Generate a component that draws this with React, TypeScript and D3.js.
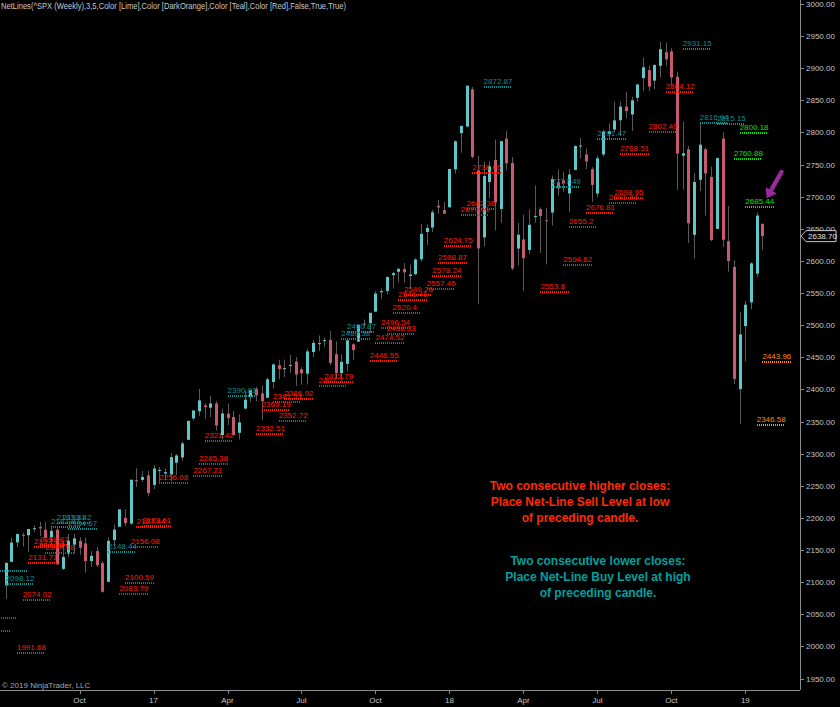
import React from "react";
import * as d3 from "d3";

// Weekly S&P 500 bars, week of 2016-07-04 through week of 2019-01-21
const opens = [
  2095.05, 2131.72, 2162.04, 2173.71, 2173.15, 2183.76, 2186.08, 2181.58, 2170.19, 2181.61,
  2120.86, 2143.99, 2158.54, 2164.33, 2160.39, 2132.95, 2148.5, 2129.78, 2100.59, 2165.64,
  2186.43, 2200.17, 2191.26, 2258.83, 2259.24, 2266.23,
  2251.57, 2273.59, 2269.14, 2267.78, 2286.01, 2294.28, 2321.72, 2354.91, 2366.08, 2375.23,
  2371.56, 2378.24, 2329.11, 2362.34, 2357.16, 2332.62, 2370.33, 2388.5, 2401.0, 2393.98,
  2387.21, 2411.67, 2437.83, 2432.03, 2437.0, 2443.32, 2431.39, 2424.51, 2458.35, 2472.04,
  2475.94, 2477.14, 2454.96, 2425.5, 2439.91, 2470.35, 2474.52, 2502.51, 2503.3, 2521.2,
  2551.39, 2553.39, 2578.08, 2583.21, 2587.47, 2576.53, 2579.49, 2602.66, 2645.1, 2652.19,
  2685.92, 2679.09,
  2683.73, 2742.67, 2798.96, 2809.16, 2867.23, 2741.06, 2636.75, 2722.99, 2757.37, 2681.06,
  2790.54, 2752.65, 2619.35, 2633.45, 2617.18, 2670.1, 2680.8, 2663.5, 2675.47, 2722.7,
  2725.58, 2705.11, 2741.67, 2779.05, 2765.79, 2742.94, 2704.95, 2765.79, 2797.36, 2804.55,
  2819.0, 2840.29, 2827.95, 2853.93, 2884.69, 2896.96, 2880.72, 2903.83, 2924.94, 2926.29,
  2886.74, 2763.83, 2773.94, 2640.69, 2726.37, 2773.93, 2730.74, 2649.97, 2790.5, 2630.86,
  2590.75, 2400.56, 2498.77, 2535.61, 2580.31, 2657.88,
];
const highs = [
  2131.71, 2169.05, 2175.63, 2177.09, 2182.87, 2188.45, 2193.81, 2193.42, 2187.87, 2186.57,
  2163.3, 2175.3, 2175.3, 2169.6, 2169.6, 2148.44, 2154.79, 2133.25, 2170.1, 2189.89,
  2213.35, 2214.1, 2259.53, 2277.53, 2273.03, 2273.82,
  2282.1, 2279.27, 2276.96, 2300.99, 2299.31, 2319.23, 2351.31, 2367.34, 2400.98, 2378.8,
  2390.01, 2381.93, 2370.35, 2378.36, 2366.37, 2361.37, 2398.16, 2399.29, 2404.05, 2405.77,
  2418.71, 2440.23, 2446.2, 2446.55, 2453.82, 2450.42, 2434.23, 2463.54, 2477.62, 2484.04,
  2480.38, 2490.87, 2474.93, 2454.77, 2480.38, 2471.97, 2500.23, 2508.85, 2519.44, 2552.51,
  2557.45, 2575.44, 2582.98, 2588.42, 2597.02, 2594.4, 2604.21, 2657.74, 2656.92, 2679.63,
  2694.97, 2692.12,
  2743.45, 2787.85, 2810.33, 2872.87, 2870.62, 2763.39, 2754.42, 2754.99, 2789.15, 2786.57,
  2801.9, 2761.85, 2659.07, 2672.08, 2680.26, 2717.49, 2683.55, 2682.26, 2732.86, 2742.24,
  2739.19, 2742.94, 2779.9, 2791.47, 2774.99, 2746.09, 2764.41, 2804.53, 2814.19, 2848.03,
  2848.09, 2863.43, 2855.63, 2876.16, 2916.5, 2903.82, 2906.76, 2940.91, 2939.86, 2931.15,
  2894.83, 2816.94, 2778.94, 2736.69, 2815.15, 2775.99, 2746.75, 2760.88, 2800.18, 2685.44,
  2601.13, 2520.27, 2538.07, 2597.82, 2675.47, 2657.88,
];
const lows = [
  2074.02, 2131.71, 2154.79, 2155.78, 2147.58, 2177.85, 2172.0, 2169.04, 2157.03, 2127.81,
  2119.12, 2139.17, 2145.04, 2142.63, 2114.72, 2124.43, 2123.56, 2083.79, 2100.59, 2156.08,
  2186.43, 2187.44, 2189.61, 2248.44, 2256.08, 2233.62,
  2245.13, 2254.25, 2258.41, 2257.02, 2267.21, 2288.88, 2321.42, 2352.87, 2358.96, 2354.54,
  2357.2, 2335.77, 2322.25, 2344.73, 2328.95, 2322.25, 2369.19, 2380.51, 2381.53, 2352.72,
  2386.92, 2401.36, 2415.7, 2419.38, 2425.87, 2405.7, 2407.7, 2407.7, 2450.33, 2459.93,
  2466.48, 2437.75, 2417.35, 2417.35, 2428.2, 2446.55, 2474.52, 2496.54, 2488.03, 2520.4,
  2541.41, 2547.92, 2557.45, 2566.17, 2566.33, 2557.45, 2578.24, 2598.87, 2624.75, 2645.19,
  2673.61, 2673.61,
  2682.36, 2736.06, 2768.64, 2808.12, 2759.97, 2532.69, 2622.45, 2697.77, 2647.32, 2659.36,
  2741.38, 2585.89, 2593.1, 2553.8, 2610.79, 2660.02, 2612.67, 2594.62, 2655.2, 2701.91,
  2707.83, 2676.81, 2741.67, 2759.69, 2742.94, 2691.84, 2698.95, 2762.71, 2789.24, 2800.08,
  2795.14, 2821.93, 2802.49, 2848.03, 2864.12, 2864.12, 2867.29, 2886.16, 2903.28, 2874.02,
  2710.51, 2710.74, 2628.16, 2603.54, 2708.81, 2670.75, 2631.09, 2649.97, 2621.53, 2583.23,
  2408.55, 2346.58, 2443.96, 2524.56, 2574.58, 2617.27,
];
const closes = [
  2129.9, 2161.74, 2175.03, 2173.6, 2182.87, 2184.05, 2183.87, 2169.04, 2179.98, 2127.81,
  2139.16, 2164.69, 2168.27, 2153.74, 2132.98, 2141.16, 2126.41, 2085.18, 2164.45, 2181.9,
  2213.35, 2191.95, 2259.53, 2258.07, 2263.79, 2238.83,
  2276.98, 2274.64, 2271.31, 2294.69, 2297.42, 2316.1, 2351.16, 2367.34, 2383.12, 2372.6,
  2378.25, 2343.98, 2362.72, 2355.54, 2328.95, 2348.69, 2384.2, 2399.29, 2390.9, 2381.73,
  2415.82, 2439.07, 2431.77, 2433.15, 2438.3, 2423.41, 2425.18, 2459.27, 2472.54, 2472.1,
  2476.83, 2441.32, 2425.55, 2443.05, 2476.55, 2461.43, 2500.23, 2502.22, 2519.36, 2549.33,
  2553.17, 2575.21, 2581.07, 2587.84, 2582.3, 2578.85, 2602.42, 2642.22, 2651.5, 2675.81,
  2683.34, 2673.61,
  2743.15, 2786.24, 2810.3, 2872.87, 2762.13, 2619.55, 2732.22, 2747.3, 2691.25, 2786.57,
  2752.01, 2588.26, 2640.87, 2604.47, 2656.3, 2670.14, 2669.91, 2663.42, 2727.72, 2712.97,
  2721.33, 2734.62, 2779.03, 2779.66, 2754.88, 2718.37, 2759.82, 2801.31, 2801.83, 2818.82,
  2840.35, 2833.28, 2850.13, 2874.69, 2901.52, 2871.68, 2904.98, 2929.67, 2913.98, 2885.57,
  2767.13, 2767.78, 2658.69, 2723.06, 2781.01, 2736.27, 2632.56, 2760.17, 2633.08, 2599.95,
  2416.62, 2485.74, 2531.94, 2596.26, 2670.71, 2638.7,
];

// Time axis labels (bar index of first week of each quarter)
const tickBars = [13, 26, 39, 52, 65, 78, 91, 104, 117, 130];
const tickLabels = ["Oct", "17", "Apr", "Jul", "Oct", "18", "Apr", "Jul", "Oct", "19"];

// Net-Line levels: value, bar where the line starts, kind
const levelValues = [
  2045.94, 2025.6, 1991.68, 2074.02, 2131.71, 2157.03, 2159.07, 2147.58, 2083.79, 2100.59,
  2156.08, 2187.44, 2189.61, 2256.08, 2267.21, 2285.38, 2321.42, 2332.51, 2369.19, 2381.53,
  2352.72, 2386.92, 2407.7, 2412.79, 2446.55, 2474.52, 2496.54, 2488.03, 2520.4, 2541.41,
  2549.26, 2557.45, 2578.24, 2598.87, 2624.75, 2673.61, 2682.36, 2738.06, 2553.8, 2594.62,
  2655.2, 2676.81, 2691.84, 2698.95, 2768.51, 2802.49, 2864.12,
  2119.12, 2098.12, 2187.87, 2193.81, 2193.42, 2184.67, 2148.44, 2390.81, 2480.38, 2490.87,
  2872.87, 2717.49, 2791.47, 2931.15, 2816.94, 2815.15,
  2760.88, 2800.18, 2685.44,
  2346.58, 2443.96,
];
const levelBars = [
  -3, -4, 2, 3, 4, 5, 6, 7, 20, 21,
  22, 23, 24, 27, 33, 34, 35, 44, 45, 47,
  48, 49, 55, 56, 64, 65, 66, 67, 68, 69,
  70, 74, 75, 76, 77, 80, 81, 82, 94, 98,
  99, 102, 106, 107, 108, 113, 116,
  -1, 0, 8, 9, 10, 11, 18, 39, 59, 60,
  84, 96, 104, 119, 122, 125,
  128, 129, 130,
  132, 133,
];
const levelKinds = [
  ...Array(47).fill("sell"),
  ...Array(16).fill("buy"),
  ...Array(3).fill("activeBuy"),
  ...Array(2).fill("activeSell"),
];
const unlabeledLevels = [2045.94, 2025.6, 2119.12];

const kindColor: Record<string, string> = {
  sell: "#ff1a00",
  buy: "#0a8f8f",
  activeBuy: "#00e000",
  activeSell: "#ff8c00",
};

const noteSell = [
  "Two consecutive higher closes:",
  "Place Net-Line Sell Level at low",
  "of preceding candle.",
];
const noteBuy = [
  "Two consecutive lower closes:",
  "Place Net-Line Buy Level at high",
  "of preceding candle.",
];

const FONT = "'Liberation Sans', Arial, sans-serif";

export default function App() {
  const W = 840;
  const H = 707;
  const axisX = 800;
  const axisY = 690;
  const x = d3.scaleLinear().domain([0, 133]).range([5.6, 762.4]);
  const y = d3.scaleLinear().domain([1950, 3000]).range([678.6, 4]);
  const step = x(1) - x(0);
  const priceTicks = y.ticks(20);
  const fmt = d3.format(".2f");
  const last = closes[closes.length - 1];
  const lastY = y(last);

  return (
    <svg
      width={W}
      height={H}
      style={{ position: "fixed", left: 0, top: 0, background: "#000", display: "block" }}
      fontFamily={FONT}
    >
      <rect x={0} y={0} width={W} height={H} fill="#000" />
      <defs>
        <clipPath id="plot">
          <rect x={0} y={0} width={axisX} height={axisY} />
        </clipPath>
      </defs>

      <g clipPath="url(#plot)">
        {opens.map((o, i) => {
          const c = closes[i];
          const cx = Math.round(x(i)) + 0.5;
          const top = y(Math.max(o, c));
          const bot = y(Math.min(o, c));
          return (
            <g key={i}>
              <line x1={cx} x2={cx} y1={y(highs[i])} y2={y(lows[i])} stroke="#5a5a5a" strokeWidth={1} />
              <rect
                x={cx - 1.5}
                y={top}
                width={3}
                height={Math.max(1, bot - top)}
                fill={c >= o ? "#5cc8c8" : "#c85a70"}
              />
            </g>
          );
        })}

        {levelValues.map((v, i) => {
          const x0 = x(levelBars[i]);
          const x1 = x(levelBars[i] + 5);
          const ly = Math.round(y(v)) + 0.5;
          const col = kindColor[levelKinds[i]];
          return (
            <g key={"l" + i}>
              <line x1={x0} x2={x1} y1={ly} y2={ly} stroke={col} strokeWidth={2} strokeDasharray="1 1" shapeRendering="crispEdges" />
              {unlabeledLevels.includes(v) ? null : (
                <text x={x0} y={ly - 3} fontSize={8} fill={col}>
                  {String(v)}
                </text>
              )}
            </g>
          );
        })}
      </g>

      {/* Right price axis */}
      <line x1={axisX + 0.5} x2={axisX + 0.5} y1={0} y2={axisY} stroke="#8a8a8a" />
      {priceTicks.map((t) => (
        <g key={"p" + t}>
          <line x1={axisX} x2={axisX + 4} y1={Math.round(y(t)) + 0.5} y2={Math.round(y(t)) + 0.5} stroke="#8a8a8a" />
          <text x={axisX + 6} y={y(t) + 3} fontSize={8} fill="#c4c4c4">
            {fmt(t)}
          </text>
        </g>
      ))}

      {/* Bottom time axis */}
      <line x1={0} x2={axisX} y1={axisY + 0.5} y2={axisY + 0.5} stroke="#8a8a8a" />
      {tickBars.map((b, i) => (
        <g key={"t" + i}>
          <line x1={Math.round(x(b)) + 0.5} x2={Math.round(x(b)) + 0.5} y1={axisY} y2={axisY + 4} stroke="#8a8a8a" />
          <text x={x(b)} y={703} fontSize={8} fill="#c4c4c4" textAnchor="middle">
            {tickLabels[i]}
          </text>
        </g>
      ))}

      {/* Last price marker */}
      <polygon
        points={`${axisX + 1},${lastY} ${axisX + 6},${lastY - 5.5} ${836},${lastY - 5.5} ${836},${lastY + 5.5} ${axisX + 6},${lastY + 5.5}`}
        fill="#000"
        stroke="#c8c8c8"
        strokeWidth={1}
      />
      <text x={axisX + 8} y={lastY + 3} fontSize={8} fill="#e0e0e0">
        {fmt(last)}
      </text>

      {/* Title and copyright */}
      <text x={1} y={9} fontSize={8.5} fill="#c8c8c8" textLength={345} lengthAdjust="spacingAndGlyphs">
        NetLines(^SPX (Weekly),3,5,Color [Lime],Color [DarkOrange],Color [Teal],Color [Red],False,True,True)
      </text>
      <text x={2} y={688} fontSize={8} fill="#a8a8a8">
        © 2019 NinjaTrader, LLC
      </text>

      {/* Annotations */}
      {noteSell.map((s, i) => (
        <text key={"ns" + i} x={580} y={490 + i * 16} fontSize={12} fontWeight="bold" fill="#ff2a00" textAnchor="middle">
          {s}
        </text>
      ))}
      {noteBuy.map((s, i) => (
        <text key={"nb" + i} x={598} y={565 + i * 16} fontSize={12} fontWeight="bold" fill="#00a0a0" textAnchor="middle">
          {s}
        </text>
      ))}

      {/* Purple arrow */}
      <line x1={781.5} y1={172} x2={771.5} y2={189.5} stroke="#992a9c" strokeWidth={4.5} strokeLinecap="round" />
      <polygon points="766.7,198.3 776.8,193.6 765.6,187.2" fill="#992a9c" />
    </svg>
  );
}
